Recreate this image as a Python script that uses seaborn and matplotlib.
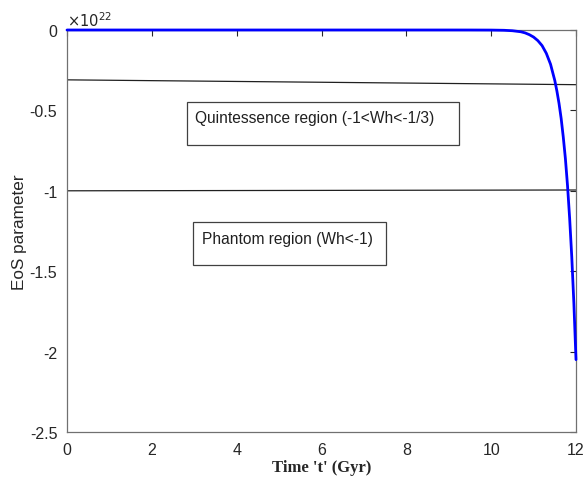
import matplotlib
matplotlib.use("Agg")
import matplotlib.pyplot as plt
import seaborn as sns
import numpy as np
import pandas as pd
from matplotlib.patches import Rectangle
from matplotlib.ticker import FuncFormatter

# EoS parameter (in units of 1e22) versus time (Gyr)
time_gyr = [0, 1, 2, 3, 4, 5, 6, 7, 8, 9, 9.5, 10.0, 10.3, 10.5, 10.7, 10.8, 10.9,
            11.0, 11.1, 11.2, 11.3, 11.4, 11.5, 11.55, 11.6, 11.65, 11.7, 11.75,
            11.8, 11.85, 11.9, 11.95, 12.0]
eos_1e22 = [0, 0, 0, 0, 0, 0, 0, 0, 0, 0, -0.0001, -0.0005, -0.0018, -0.0045,
            -0.011, -0.018, -0.029, -0.044, -0.066, -0.097, -0.145, -0.213, -0.314,
            -0.38, -0.457, -0.55, -0.666, -0.80, -0.968, -1.17, -1.41, -1.70, -2.05]

# boundary lines
quint_x = [0, 12]
quint_y = [-0.31, -0.34]
phantom_x = [0, 12]
phantom_y = [-1.0, -0.995]

box_labels = ["Quintessence region (-1<Wh<-1/3)", "Phantom region (Wh<-1)"]
y_ticks = [0, -0.5, -1, -1.5, -2, -2.5]
x_ticks = [0, 2, 4, 6, 8, 10, 12]

sns.set_style("white")
plt.rcParams['font.family'] = ['Liberation Sans', 'DejaVu Sans']
plt.rcParams['axes.unicode_minus'] = False

W, H = 586, 481
fig = plt.figure(figsize=(W / 100, H / 100), dpi=100)
ax = fig.add_axes([67 / W, 1 - 433 / H, (576 - 67) / W, (433 - 31) / H])

df = pd.DataFrame({"t": time_gyr, "w": eos_1e22})
sns.lineplot(x=quint_x, y=quint_y, ax=ax, color="#202020", linewidth=0.9)
sns.lineplot(x=phantom_x, y=phantom_y, ax=ax, color="#202020", linewidth=0.9)
sns.lineplot(data=df, x="t", y="w", ax=ax, color="#0000ff", linewidth=2.0, sort=False)
ax.lines[-1].set_clip_on(False)
ax.lines[-1].set_zorder(5)

ax.set_xlim(0, 12)
ax.set_ylim(-2.5, 0)
ax.set_xticks(x_ticks)
ax.set_yticks(y_ticks)
ax.yaxis.set_major_formatter(FuncFormatter(lambda v, p: "%g" % v))
ax.tick_params(direction="in", length=4, width=0.8, colors="#262626",
               labelsize=11.5, top=True, right=True, labelcolor="#262626", pad=7)
ax.tick_params(axis="x", pad=7)
for s in ax.spines.values():
    s.set_color("#707070")
    s.set_linewidth(0.9)

ax.set_xlabel("Time 't' (Gyr)", family="Liberation Serif", fontweight="bold",
              fontsize=12, color="#262626", labelpad=2)
ax.set_ylabel("EoS parameter", fontsize=12.3, color="#262626", labelpad=2)

ax.text(0.0, 1.003, r"$\times10^{22}$", transform=ax.transAxes, fontsize=10.5,
        color="#262626", ha="left", va="bottom")

# annotation boxes (figure pixel coords)
boxes = [(187, 103, 459, 146), (193, 223, 386, 266)]
text_pos = [(195, 119), (202, 240)]
for (x0, y0, x1, y1), (tx, ty), lab in zip(boxes, text_pos, box_labels):
    fig.patches.append(Rectangle((x0 / W, 1 - y1 / H), (x1 - x0) / W, (y1 - y0) / H,
                                 transform=fig.transFigure, fill=False,
                                 edgecolor="#404040", linewidth=0.9))
    fig.text(tx / W, 1 - ty / H, lab, fontsize=11.2, color="#202020",
             ha="left", va="center")

fig.savefig("out.png", dpi=100)
